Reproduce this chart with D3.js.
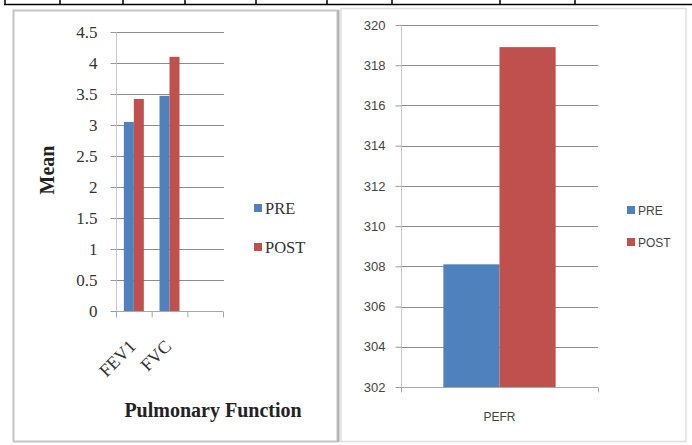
<!DOCTYPE html>
<html><head><meta charset="utf-8">
<script src="https://cdn.jsdelivr.net/npm/d3@7"></script>
<style>body{margin:0;background:#fff}svg{display:block}</style>
</head><body>
<svg id="c" width="692" height="445"></svg>
<script>
// ---- data ----
const seriesNames = ["PRE", "POST"];
const leftCategories = ["FEV1", "FVC", ""];
const leftPre = [3.05, 3.47, null];
const leftPost = [3.42, 4.1, null];
const leftTicks = [0, 0.5, 1, 1.5, 2, 2.5, 3, 3.5, 4, 4.5];
const rightCategories = ["PEFR"];
const rightPre = [308.1];
const rightPost = [318.9];
const rightTicks = [302, 304, 306, 308, 310, 312, 314, 316, 318, 320];
const colors = ["#4F81BD", "#C0504D"];
const tableDividers = [5, 60, 123, 185, 256, 327, 392, 500, 575];

const svg = d3.select("#c");

// top table strip
svg.append("line").attr("x1", 4).attr("x2", 692).attr("y1", 4.5).attr("y2", 4.5)
  .attr("stroke", "#000").attr("stroke-width", 1.6);
svg.selectAll(".tdiv").data(tableDividers).enter().append("line")
  .attr("x1", d => d).attr("x2", d => d).attr("y1", 0).attr("y2", 4.5)
  .attr("stroke", "#000").attr("stroke-width", 1.5);

// panels
svg.append("rect").attr("x", 13.5).attr("y", 10.5).attr("width", 324).attr("height", 431)
  .attr("fill", "none").attr("stroke", "#c4c4c4").attr("stroke-width", 2);
svg.append("rect").attr("x", 341).attr("y", 8.5).attr("width", 345).attr("height", 433)
  .attr("fill", "none").attr("stroke", "#dedede").attr("stroke-width", 1.5);
svg.append("line").attr("x1", 338.5).attr("x2", 338.5).attr("y1", 10).attr("y2", 442)
  .attr("stroke", "#b0b0b0").attr("stroke-width", 2);

function tableOf(cats, pre, post) {
  return cats.map((c, i) => ({ cat: c, vals: [pre[i], post[i]] }));
}

// ---------- LEFT CHART ----------
(function () {
  const x0 = d3.scaleBand().domain(leftCategories.map((c, i) => i)).range([116, 223])
    .paddingInner(0.44).paddingOuter(0.22);
  const x1 = d3.scaleBand().domain(seriesNames).range([0, x0.bandwidth()]);
  const y = d3.scaleLinear().domain([0, 4.5]).range([311, 32]);
  const g = svg.append("g");
  const serif = "'Liberation Serif','Times New Roman',serif";

  // gridlines
  g.selectAll(".grid").data(leftTicks.slice(1)).enter().append("line")
    .attr("x1", 116).attr("x2", 224).attr("y1", d => Math.round(y(d)) + 0.5).attr("y2", d => Math.round(y(d)) + 0.5)
    .attr("stroke", "#8c8c8c").attr("stroke-width", 1);

  // y axis
  const ya = d3.axisLeft(y).tickValues(leftTicks).tickSize(6).tickPadding(13)
    .tickFormat(d => String(d));
  const yg = g.append("g").attr("transform", "translate(116.5,0)").call(ya);
  yg.select(".domain").attr("stroke", "#c8c8c8").attr("d", `M0,${y(4.5)}V${y(0)}`);
  yg.selectAll(".tick line").attr("stroke", "#9a9a9a");
  yg.selectAll(".tick text").attr("font-family", serif).attr("font-size", 17).attr("fill", "#333");

  // bars
  const data = tableOf(leftCategories, leftPre, leftPost);
  const grp = g.selectAll(".cat").data(data).enter().append("g")
    .attr("transform", (d, i) => `translate(${x0(i)},0)`);
  grp.selectAll("rect").data(d => d.vals.map((v, k) => ({ v, k })).filter(o => o.v != null))
    .enter().append("rect")
    .attr("x", o => x1(seriesNames[o.k])).attr("width", x1.bandwidth())
    .attr("y", o => y(o.v)).attr("height", o => y(0) - y(o.v))
    .attr("fill", o => colors[o.k]);

  // x axis
  const xs = d3.scaleBand().domain(leftCategories.map((c, i) => i)).range([116, 223]);
  const xg = g.append("g").attr("transform", `translate(0,${Math.round(y(0)) + 0.5})`);
  xg.append("line").attr("x1", 116).attr("x2", 223).attr("stroke", "#a8a8a8");
  const edges = leftCategories.map((c, i) => xs(i)).concat([xs(leftCategories.length - 1) + xs.bandwidth()]);
  xg.selectAll(".xt").data(edges).enter().append("line")
    .attr("x1", d => d + 0.5).attr("x2", d => d + 0.5).attr("y1", 0).attr("y2", 6).attr("stroke", "#a8a8a8");
  xg.selectAll(".xl").data(leftCategories).enter().append("text")
    .attr("transform", (d, i) => `translate(${xs(i) + xs.bandwidth() / 2 + 3},${36}) rotate(-45)`)
    .attr("text-anchor", "end").attr("font-family", serif).attr("font-size", 18).attr("fill", "#333")
    .text(d => d);

  // titles
  g.append("text").attr("transform", "translate(54,170) rotate(-90)").attr("text-anchor", "middle")
    .attr("font-family", serif).attr("font-weight", "bold").attr("font-size", 20).attr("fill", "#222").text("Mean");
  g.append("text").attr("x", 213).attr("y", 417).attr("text-anchor", "middle")
    .attr("font-family", serif).attr("font-weight", "bold").attr("font-size", 20).attr("fill", "#222").text("Pulmonary Function");

  // legend
  const lg = g.selectAll(".lg").data(seriesNames).enter().append("g")
    .attr("transform", (d, i) => `translate(254,${208 + i * 39})`);
  lg.append("rect").attr("x", 0).attr("y", -4).attr("width", 8).attr("height", 8).attr("fill", (d, i) => colors[i]);
  lg.append("text").attr("x", 11).attr("y", 6).attr("font-family", serif).attr("font-size", 16.5).attr("fill", "#333").text(d => d);
})();

// ---------- RIGHT CHART ----------
(function () {
  const x0 = d3.scaleBand().domain(rightCategories).range([401, 598]).paddingInner(0.43).paddingOuter(0.215);
  const x1 = d3.scaleBand().domain(seriesNames).range([0, x0.bandwidth()]);
  const y = d3.scaleLinear().domain([302, 320]).range([387, 25]);
  const g = svg.append("g");
  const sans = "'Liberation Sans',Arial,sans-serif";

  g.selectAll(".grid").data(rightTicks.slice(1)).enter().append("line")
    .attr("x1", 401).attr("x2", 598).attr("y1", d => Math.round(y(d)) + 0.5).attr("y2", d => Math.round(y(d)) + 0.5)
    .attr("stroke", "#8c8c8c").attr("stroke-width", 1);

  const ya = d3.axisLeft(y).tickValues(rightTicks).tickSize(6).tickPadding(10).tickFormat(d3.format("d"));
  const yg = g.append("g").attr("transform", "translate(401.5,0)").call(ya);
  yg.select(".domain").attr("stroke", "#c8c8c8").attr("d", `M0,${y(320)}V${y(302)}`);
  yg.selectAll(".tick line").attr("stroke", "#9a9a9a");
  yg.selectAll(".tick text").attr("font-family", sans).attr("font-size", 13).attr("fill", "#444");

  const data = tableOf(rightCategories, rightPre, rightPost);
  const grp = g.selectAll(".cat").data(data).enter().append("g")
    .attr("transform", d => `translate(${x0(d.cat)},0)`);
  grp.selectAll("rect").data(d => d.vals.map((v, k) => ({ v, k }))).enter().append("rect")
    .attr("x", o => x1(seriesNames[o.k])).attr("width", x1.bandwidth())
    .attr("y", o => y(o.v)).attr("height", o => y(302) - y(o.v))
    .attr("fill", o => colors[o.k]);

  const xg = g.append("g").attr("transform", `translate(0,${Math.round(y(302)) + 0.5})`);
  xg.append("line").attr("x1", 401).attr("x2", 598).attr("stroke", "#a8a8a8");
  xg.selectAll(".xt").data([401, 598]).enter().append("line")
    .attr("x1", d => d + 0.5).attr("x2", d => d + 0.5).attr("y1", 0).attr("y2", 5).attr("stroke", "#a8a8a8");
  const xs = d3.scaleBand().domain(rightCategories).range([401, 598]);
  xg.selectAll(".xl").data(rightCategories).enter().append("text")
    .attr("x", d => xs(d) + xs.bandwidth() / 2).attr("y", 33).attr("text-anchor", "middle")
    .attr("font-family", sans).attr("font-size", 12).attr("fill", "#444").text(d => d);

  const lg = g.selectAll(".lg").data(seriesNames).enter().append("g")
    .attr("transform", (d, i) => `translate(627,${210 + i * 32})`);
  lg.append("rect").attr("x", 0).attr("y", -4).attr("width", 8).attr("height", 8).attr("fill", (d, i) => colors[i]);
  lg.append("text").attr("x", 11).attr("y", 4.5).attr("font-family", sans).attr("font-size", 12).attr("fill", "#444").text(d => d);
})();
</script>
</body></html>
